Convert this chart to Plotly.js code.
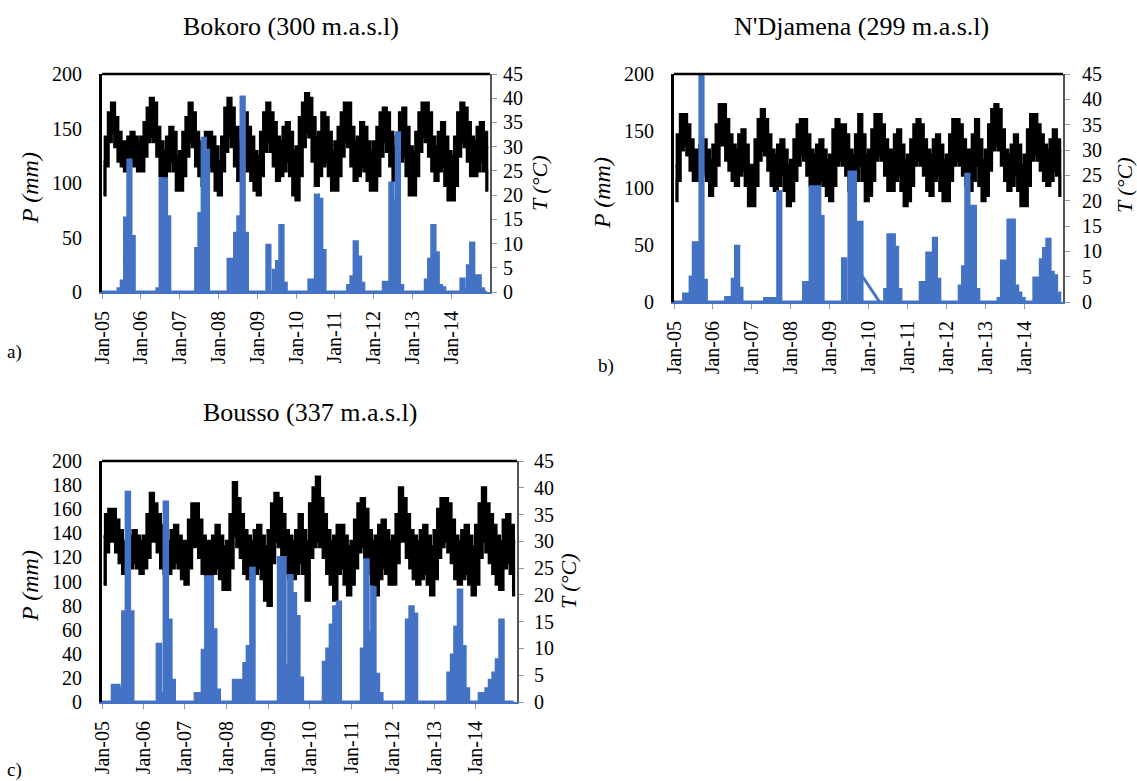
<!DOCTYPE html>
<html>
<head>
<meta charset="utf-8">
<script src="https://cdn.plot.ly/plotly-3.0.1.min.js"></script>
<style>html,body{margin:0;padding:0;background:#fff;}#chart{width:1137px;height:781px;}</style>
</head>
<body>
<div id="chart"></div>
<script>
// ---------- DATA (monthly values) ----------
const years = [2005, 2006, 2007, 2008, 2009, 2010, 2011, 2012, 2013, 2014];
const tickLabels = ['Jan-05','Jan-06','Jan-07','Jan-08','Jan-09','Jan-10','Jan-11','Jan-12','Jan-13','Jan-14'];
const titles = ['Bokoro (300 m.a.s.l)', "N'Djamena (299 m.a.s.l)", 'Bousso (337 m.a.s.l)'];
const panelLabels = ['a)', 'b)', 'c)'];

// Precipitation P (mm), Jan..Dec for each year 2005-2014
const bokoroP = [
  0,0,0,0,0,3,10,68,121,51,0,0,
  0,0,0,0,0,3,104,104,69,0,0,0,
  0,0,0,0,0,40,72,141,130,0,0,0,
  0,0,0,30,30,54,69,179,54,0,0,0,
  0,0,0,43,0,20,28,61,8,0,0,0,
  0,0,0,0,11,11,89,85,38,0,0,0,
  0,0,0,0,6,14,46,32,8,0,0,0,
  0,0,0,9,9,100,84,146,6,0,0,0,
  0,0,0,0,11,30,61,36,6,4,0,0,
  0,0,0,12,3,24,45,15,15,3,0,0
];
const ndjamenaP = [
  0,0,0,7,7,22,52,52,200,19,0,0,
  0,0,0,0,4,4,20,49,12,0,0,0,
  0,0,0,0,3,3,3,3,97,0,0,0,
  0,0,0,0,17,17,101,101,101,75,0,0,
  0,0,0,0,38,0,114,114,70,70,0,0,
  0,0,0,0,0,11,59,59,48,11,0,0,
  0,0,0,0,17,17,43,43,56,20,0,0,
  0,0,0,0,14,31,112,84,84,11,0,0,
  0,0,0,0,3,36,36,72,72,14,8,3,
  0,0,0,21,21,37,47,55,26,23,8,0
];
// N'Djamena gap line (missing data, late 2009 - early 2010)
const ndjamenaGapDates = ['2009-11-01', '2010-04-15'];
const ndjamenaGapP = [23, 0];
const boussoP = [
  0,0,0,14,14,11,75,174,75,0,0,0,
  0,0,0,0,48,7,166,68,18,0,0,0,
  0,0,0,7,7,43,104,104,60,10,0,0,
  0,0,18,18,18,32,46,111,0,0,0,0,
  0,0,0,120,120,30,105,90,71,20,0,0,
  0,0,0,0,33,44,64,79,83,0,0,0,
  0,0,0,44,118,58,95,23,7,0,0,0,
  0,0,0,0,68,79,73,0,0,0,0,0,
  0,0,0,0,24,39,62,93,46,11,0,0,
  0,7,7,11,18,24,35,68,0,0,0,0
];

// Temperature T (°C): monthly upper and lower envelope of the daily curve
const bokoroTmax = [
  27,32,37,39,36,33,31,31,32,33,32,31,
  32,35,38,40,39,34,31,29,32,34,33,28,
  29,33,36,39,37,33,31,30,33,33,32,30,
  27,32,38,40,38,34,31,34,37,34,32,29,
  28,33,37,39,37,35,32,31,34,35,33,29,
  30,36,39,41,40,36,32,33,37,36,33,29,
  31,34,37,39,39,34,31,32,35,34,31,29,
  31,34,37,38,37,33,30,32,37,38,34,30,
  29,33,37,39,39,37,32,30,33,35,32,29,
  28,32,37,39,38,35,32,31,34,35,33,30
];
const bokoroTmin = [
  20,26,31,33,30,27,26,25,26,27,26,25,
  25,28,31,32,31,28,24,23,25,27,25,21,
  21,24,28,31,30,26,24,22,25,26,25,21,
  20,25,29,32,30,26,23,25,27,25,23,21,
  20,24,29,31,29,26,23,24,25,27,24,20,
  19,24,30,33,32,27,22,24,26,27,24,21,
  21,24,28,31,30,26,23,24,26,25,23,21,
  21,24,28,31,29,26,23,24,27,28,24,20,
  20,24,29,32,31,28,25,23,25,26,22,19,
  19,22,28,31,30,27,24,24,25,27,25,21
];
const ndjamenaTmax = [
  27,33,37,37,35,32,30,30,31,32,30,28,
  31,35,39,39,36,33,31,30,33,34,31,27,
  27,32,36,38,36,33,30,29,31,32,30,27,
  28,32,35,36,36,33,30,29,31,32,30,28,
  29,34,36,35,35,33,30,29,33,37,33,29,
  30,34,37,37,35,32,30,30,33,34,31,28,
  29,32,35,36,35,32,30,29,32,33,31,28,
  29,33,36,36,35,32,30,30,33,36,32,28,
  30,35,38,39,38,34,30,29,31,33,31,27,
  29,34,37,37,35,33,31,30,32,34,32,30
];
const ndjamenaTmin = [
  20,24,30,31,29,26,24,24,25,26,24,21,
  23,27,31,31,28,26,24,23,25,26,23,19,
  19,23,28,30,29,26,23,22,23,25,22,19,
  20,24,27,29,28,25,23,22,23,24,23,21,
  20,23,27,28,27,25,22,22,24,27,24,20,
  21,24,28,29,28,25,22,22,24,25,22,19,
  20,23,27,28,27,25,22,21,24,25,22,20,
  20,24,27,28,27,25,23,22,24,27,23,20,
  21,26,30,31,30,27,24,22,23,25,22,19,
  19,23,28,29,28,26,24,23,24,26,25,21
];
const boussoTmax = [
  31,35,36,36,34,32,30,30,31,32,31,30,
  31,35,39,37,35,33,31,30,32,33,31,30,
  30,34,37,37,34,31,30,30,31,33,31,29,
  30,35,41,38,35,32,31,30,32,33,31,29,
  32,37,39,38,35,32,31,30,32,35,32,30,
  37,40,42,38,35,32,30,31,33,33,31,29,
  30,34,37,38,36,32,30,31,33,34,32,30,
  31,35,40,38,35,32,31,30,32,33,31,29,
  32,36,38,38,37,34,31,30,32,33,31,29,
  33,37,40,37,35,33,31,30,34,35,33,30
];
const boussoTmin = [
  22,28,30,30,28,26,24,24,25,26,25,24,
  25,27,30,30,28,25,24,24,25,26,25,23,
  22,25,29,29,27,24,23,23,24,25,23,21,
  21,25,31,29,27,24,23,23,24,25,23,19,
  18,26,30,29,27,24,23,23,24,26,24,19,
  27,29,30,29,27,24,22,19,24,25,22,20,
  22,25,28,29,27,24,22,20,23,25,24,22,
  22,26,30,30,27,25,23,22,23,24,22,20,
  23,27,29,30,28,26,23,22,23,24,22,20,
  22,27,30,28,26,24,22,21,25,26,24,20
];

// ---------- BUILD ----------
const pad = n => (n < 10 ? '0' + n : '' + n);
const monthStart = [], monthMid = [];
years.forEach(y => { for (let m = 1; m <= 12; m++) { monthStart.push(y + '-' + pad(m) + '-01'); monthMid.push(y + '-' + pad(m) + '-15'); } });
const tickVals = years.map(y => y + '-01-01');

const BLUE = '#4472C4';
const FONT = 'Liberation Serif, Times New Roman, serif';
const W = 1137, H = 781;
const px = x => x / W, py = y => 1 - y / H;

const panels = [
  { P: bokoroP, Tmax: bokoroTmax, Tmin: bokoroTmin, box: [102, 490, 74, 292], dtickP: 50, title: [291, 27], pt: [30, 188], tt: [539, 184], lab: [14, 352], rs: 2 },
  { P: ndjamenaP, Tmax: ndjamenaTmax, Tmin: ndjamenaTmin, box: [674, 1063, 74, 302], dtickP: 50, title: [861, 27], pt: [602, 193], tt: [1124, 186], lab: [606, 366], rs: 8, gap: true },
  { P: boussoP, Tmax: boussoTmax, Tmin: boussoTmin, box: [102, 517, 461, 702], dtickP: 20, title: [310, 412], pt: [30, 586], tt: [568, 582], lab: [14, 770], rs: 6 }
];

const data = [];
const layout = {
  width: W, height: H, margin: { l: 0, r: 0, t: 0, b: 0 },
  paper_bgcolor: '#fff', plot_bgcolor: 'rgba(0,0,0,0)',
  showlegend: false, font: { family: FONT, color: '#000', size: 20 },
  annotations: [], shapes: []
};

panels.forEach((p, i) => {
  const xa = 'x' + (i === 0 ? '' : i + 1);
  const tAx = 'y' + (i === 0 ? '' : 2 * i + 1);   // temperature (base, right)
  const pAx = 'y' + (2 * i + 2);                  // precipitation (overlay, left)
  const xKey = 'xaxis' + (i === 0 ? '' : i + 1);
  const tKey = 'yaxis' + (i === 0 ? '' : 2 * i + 1);
  const pKey = 'yaxis' + (2 * i + 2);
  const [l, r, t, b] = p.box;

  data.push({ x: monthMid, y: p.Tmax, xaxis: xa, yaxis: tAx, mode: 'lines', line: { color: '#000', width: 3, shape: 'hvh' }, hoverinfo: 'skip' });
  data.push({ x: monthMid, y: p.Tmin, xaxis: xa, yaxis: tAx, mode: 'lines', line: { color: '#000', width: 3, shape: 'hvh' }, fill: 'tonexty', fillcolor: '#000', hoverinfo: 'skip' });
  data.push({ x: monthStart, y: p.P, xaxis: xa, yaxis: pAx, mode: 'lines', line: { color: BLUE, width: 3, shape: 'hv' }, fill: 'tozeroy', fillcolor: BLUE, hoverinfo: 'skip' });
  if (p.gap) data.push({ x: ndjamenaGapDates, y: ndjamenaGapP, xaxis: xa, yaxis: pAx, mode: 'lines', line: { color: BLUE, width: 3 }, hoverinfo: 'skip' });

  layout[xKey] = {
    domain: [px(l), px(r)], anchor: tAx, type: 'date',
    range: ['2005-01-01', '2014-12-31'],
    tickmode: 'array', tickvals: tickVals, ticktext: tickLabels, tickangle: -90,
    ticks: 'outside', ticklen: 5, tickcolor: '#999', tickwidth: 1,
    showline: true, linecolor: BLUE, linewidth: 2, showgrid: false, zeroline: false,
    tickfont: { family: FONT, size: 20, color: '#000' }, ticklabelstandoff: 4
  };
  layout[tKey] = {
    domain: [py(b), py(t)], anchor: xa, side: 'right', range: [0, 45], dtick: 5,
    ticks: 'outside', ticklen: 5, tickcolor: '#999', showline: true, linecolor: '#555', linewidth: 2,
    showgrid: false, zeroline: false, tickfont: { family: FONT, size: 20, color: '#000' }, ticklabelstandoff: p.rs
  };
  layout[pKey] = {
    overlaying: tAx, anchor: xa, side: 'left', range: [0, 200], dtick: p.dtickP,
    ticks: '', showline: true, linecolor: '#000', linewidth: 3,
    showgrid: false, zeroline: false, tickfont: { family: FONT, size: 20, color: '#000' }, ticklabelstandoff: 13
  };
  layout.shapes.push({ type: 'line', xref: xa + ' domain', yref: tAx + ' domain', x0: 0, x1: 1, y0: 1, y1: 1, line: { color: '#000', width: 2.5 } });

  layout.annotations.push({ text: titles[i], xref: 'paper', yref: 'paper', x: px(p.title[0]), y: py(p.title[1]), xanchor: 'center', yanchor: 'middle', showarrow: false, font: { family: FONT, size: 26, color: '#000' } });
  layout.annotations.push({ text: '<i>P (mm)</i>', xref: 'paper', yref: 'paper', x: px(p.pt[0]), y: py(p.pt[1]), xanchor: 'center', yanchor: 'middle', textangle: -90, showarrow: false, font: { family: FONT, size: 24, color: '#000' } });
  layout.annotations.push({ text: '<i>T (°C)</i>', xref: 'paper', yref: 'paper', x: px(p.tt[0]), y: py(p.tt[1]), xanchor: 'center', yanchor: 'middle', textangle: -90, showarrow: false, font: { family: FONT, size: 22, color: '#000' } });
  layout.annotations.push({ text: panelLabels[i], xref: 'paper', yref: 'paper', x: px(p.lab[0]), y: py(p.lab[1]), xanchor: 'center', yanchor: 'middle', showarrow: false, font: { family: FONT, size: 19, color: '#000' } });
});

Plotly.newPlot('chart', data, layout, { staticPlot: true, displayModeBar: false });
</script>
</body>
</html>
